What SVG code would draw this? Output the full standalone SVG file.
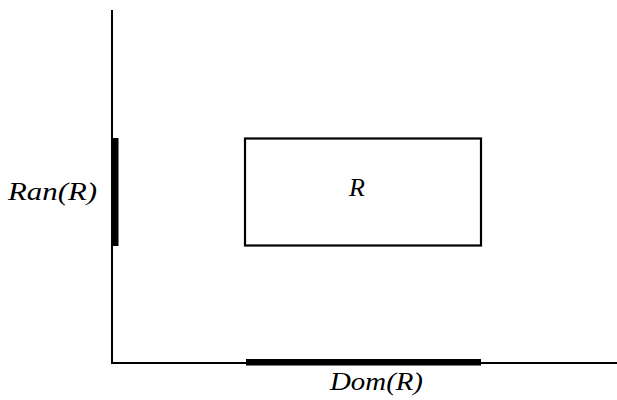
<svg xmlns="http://www.w3.org/2000/svg" width="617" height="400" viewBox="0 0 617 400">
<style>
.ax{stroke:#000;stroke-width:2;fill:none}
.bar{fill:#000}
.box{fill:#fff;stroke:#000;stroke-width:2.2}
.lbl{font-style:italic;font-size:26px;fill:#000}
</style>
<rect width="617" height="400" fill="#fff"/>
<g id="axes" class="connectors">
<polyline class="ax" points="112,10 112,363 617,363"/>
</g>
<g id="ran-bar"><rect class="bar" x="112" y="138" width="6.5" height="108"/></g>
<g id="dom-bar"><rect class="bar" x="246" y="359" width="235" height="6.5"/></g>
<g id="R">
<rect class="box" x="245" y="138.5" width="236" height="107"/>
<text class="lbl" font-family="'Liberation Serif', serif" x="357" y="196" text-anchor="middle">R</text>
</g>
<g id="ran-label"><text class="lbl" font-family="'Liberation Serif', serif" x="8" y="200" textLength="89" lengthAdjust="spacingAndGlyphs">Ran(R)</text></g>
<g id="dom-label"><text class="lbl" font-family="'Liberation Serif', serif" x="330" y="390" textLength="93" lengthAdjust="spacingAndGlyphs">Dom(R)</text></g>
</svg>
